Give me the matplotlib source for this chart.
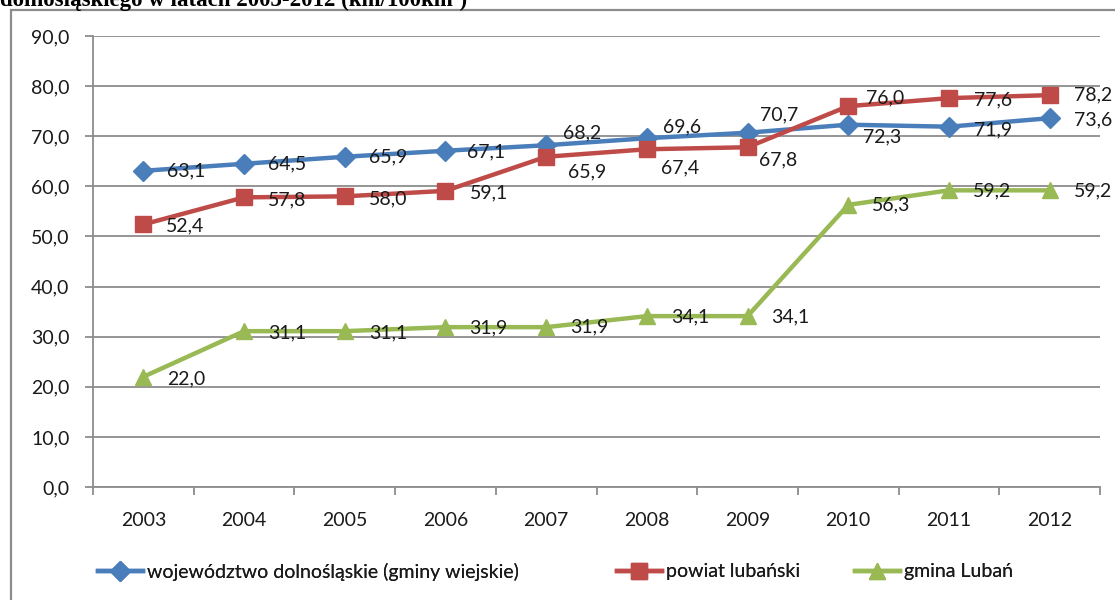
import numpy as np
import matplotlib
matplotlib.use("Agg")
import matplotlib.pyplot as plt
from matplotlib.lines import Line2D
from matplotlib.patches import Rectangle

# dane: gęstość dróg (km/100km2)
lata = ["2003", "2004", "2005", "2006", "2007", "2008", "2009", "2010", "2011", "2012"]
wojewodztwo = [63.1, 64.5, 65.9, 67.1, 68.2, 69.6, 70.7, 72.3, 71.9, 73.6]
powiat = [52.4, 57.8, 58.0, 59.1, 65.9, 67.4, 67.8, 76.0, 77.6, 78.2]
gmina = [22.0, 31.1, 31.1, 31.9, 31.9, 34.1, 34.1, 56.3, 59.2, 59.2]

nazwy = ["województwo dolnośląskie (gminy wiejskie)", "powiat lubański", "gmina Lubań"]

# przesunięcia etykiet (piksele) od znacznika
off_woj = [(24, 0), (24, 0), (24, 0), (22, -1), (17, 12), (16, 11), (12, 18), (15, -12), (25, -3), (24, -2)]
off_pow = [(23, -1), (24, -3), (24, -3), (24, -2), (22, -15), (14, -19), (11, -13), (18, 8), (25, -2), (24, 0)]
off_gm = [(24, -2), (24, -2), (24, -2), (24, -1), (24, 0), (24, -1), (24, -1), (24, 0), (24, -1), (24, -1)]

kolory = ["#4A7EBB", "#BE4B48", "#98B954"]
markery = ["D", "s", "^"]
rozm = [10, 11, 12]

plt.rcParams['font.family'] = ['Lato', 'DejaVu Sans']
FS = 14

fig = plt.figure(figsize=(11.15, 6.0), dpi=100)
ax = fig.add_axes([93 / 1115, 1 - 487 / 600, (1100 - 93) / 1115, (487 - 36) / 600])

x = np.arange(len(lata))
serie = [wojewodztwo, powiat, gmina]
offs = [off_woj, off_pow, off_gm]
for s, kol, m, r, of in zip(serie, kolory, markery, rozm, offs):
    ax.plot(x, s, color=kol, lw=3.2, marker=m, ms=r, markeredgecolor=kol, zorder=3)
    for xi, v, (dx, dy) in zip(x, s, of):
        ax.annotate(f"{v:.1f}".replace(".", ","), (xi, v), xytext=(dx, dy),
                    textcoords="offset pixels", ha="left", va="center",
                    fontsize=FS, color="#1a1a1a", zorder=4)

ax.set_xlim(-0.5, len(lata) - 0.5)
ax.set_ylim(0, 90)
ax.set_yticks(np.arange(0, 91, 10))
ax.set_yticklabels([f"{v:.1f}".replace(".", ",") for v in np.arange(0, 91, 10)])
ax.yaxis.grid(True, color="#8C8C8C", lw=1.3)
ax.set_axisbelow(True)

# kreski między kategoriami, etykiety na środku
ax.set_xticks(np.arange(-0.5, len(lata), 1.0))
ax.set_xticklabels([])
ax.set_xticks(x, minor=True)
ax.set_xticklabels(lata, minor=True)
ax.tick_params(axis="x", which="major", length=6, color="#8C8C8C", width=1.3, direction="out")
ax.tick_params(axis="x", which="minor", length=0, pad=18, labelsize=FS, labelcolor="#1a1a1a")
ax.tick_params(axis="y", length=6, color="#8C8C8C", width=1.3, pad=11, labelsize=FS, labelcolor="#1a1a1a")

for sp in ["top", "right"]:
    ax.spines[sp].set_visible(False)
for sp in ["left", "bottom"]:
    ax.spines[sp].set_color("#8C8C8C")
    ax.spines[sp].set_linewidth(1.3)

# legenda - każda pozycja osobno
leg_x = [98, 617, 855]
for nazwa, kol, m, r, lx in zip(nazwy, kolory, markery, rozm, leg_x):
    h = Line2D([], [], color=kol, lw=3.2, marker=m, ms=r, markeredgecolor=kol)
    lg = fig.legend([h], [nazwa], loc="center left", bbox_to_anchor=(lx / 1115, 1 - 572 / 600),
                    frameon=False, fontsize=FS, handlelength=2.3, handletextpad=0.2,
                    borderpad=0, borderaxespad=0, labelcolor="#1a1a1a")
    fig.add_artist(lg)

# ramka wykresu
fig.patches.append(Rectangle((11 / 1115, -0.1), 1.2, 1 - 10 / 600 + 0.1, transform=fig.transFigure,
                             fill=False, edgecolor="#8C8C8C", lw=1.6))

# tytuł (ucięty u góry)
fig.text(0.0, 1 - 6 / 600, "dolnośląskiego w latach 2003-2012 (km/100km²)", ha="left", va="baseline",
         fontsize=16.5, fontweight="bold", family="Liberation Serif", color="black")

fig.savefig("out.png", dpi=100)
